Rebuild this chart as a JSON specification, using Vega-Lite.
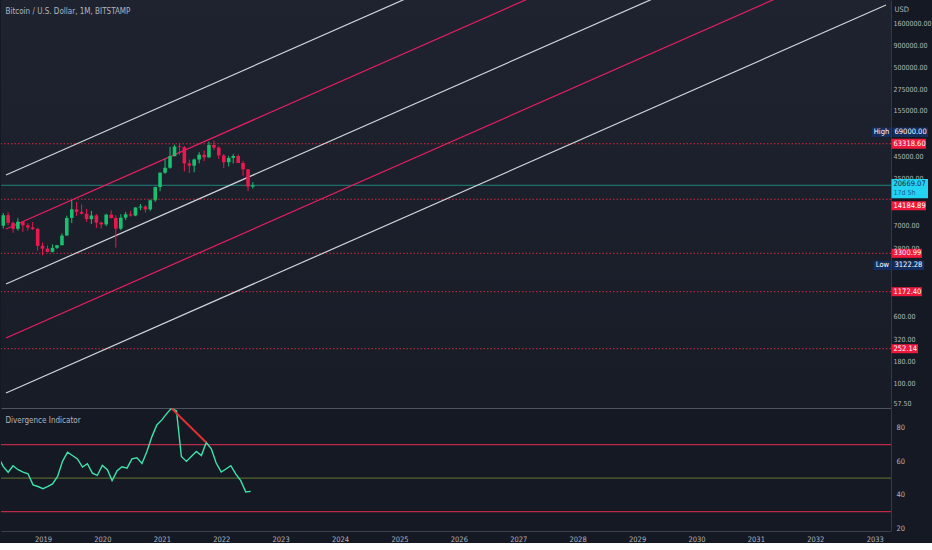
{
"$schema": "https://vega.github.io/schema/vega-lite/v6.json",
"background": "#151924",
"padding": 0,
"spacing": 0,
"config": {
  "font": "DejaVu Sans Condensed, Liberation Sans, sans-serif",
  "view": {"stroke": null},
  "axis": {"grid": false, "ticks": false, "labelFont": "DejaVu Sans Condensed, Liberation Sans, sans-serif", "labelFontSize": 7.5, "labelColor": "#b2b5be", "domainColor": "#343844", "titleFont": "DejaVu Sans Condensed, Liberation Sans, sans-serif", "titleFontWeight": "normal", "titleFontSize": 8, "titleColor": "#b2b5be"}
},
"datasets": {
  "candles": [
    {"date":"2018-04-01","open":6926,"high":9759,"low":6430,"close":9240},
    {"date":"2018-05-01","open":9240,"high":9990,"low":7030,"close":7495},
    {"date":"2018-06-01","open":7495,"high":7760,"low":5750,"close":6390},
    {"date":"2018-07-01","open":6390,"high":8500,"low":6070,"close":7730},
    {"date":"2018-08-01","open":7730,"high":7760,"low":5880,"close":7015},
    {"date":"2018-09-01","open":7015,"high":7410,"low":6110,"close":6625},
    {"date":"2018-10-01","open":6625,"high":7680,"low":6190,"close":6370},
    {"date":"2018-11-01","open":6370,"high":6580,"low":3560,"close":4040},
    {"date":"2018-12-01","open":4040,"high":4410,"low":3122.28,"close":3742},
    {"date":"2019-01-01","open":3742,"high":4080,"low":3400,"close":3437},
    {"date":"2019-02-01","open":3437,"high":4200,"low":3380,"close":3820},
    {"date":"2019-03-01","open":3820,"high":4140,"low":3700,"close":4102},
    {"date":"2019-04-01","open":4102,"high":5640,"low":4080,"close":5320},
    {"date":"2019-05-01","open":5320,"high":9090,"low":5320,"close":8570},
    {"date":"2019-06-01","open":8570,"high":13880,"low":7450,"close":10820},
    {"date":"2019-07-01","open":10820,"high":13200,"low":9070,"close":10085},
    {"date":"2019-08-01","open":10085,"high":12330,"low":9360,"close":9600},
    {"date":"2019-09-01","open":9600,"high":10920,"low":7710,"close":8290},
    {"date":"2019-10-01","open":8290,"high":10370,"low":7300,"close":9150},
    {"date":"2019-11-01","open":9150,"high":9510,"low":6530,"close":7550},
    {"date":"2019-12-01","open":7550,"high":7760,"low":6430,"close":7195},
    {"date":"2020-01-01","open":7195,"high":9580,"low":6860,"close":9350},
    {"date":"2020-02-01","open":9350,"high":10500,"low":8440,"close":8545},
    {"date":"2020-03-01","open":8545,"high":9190,"low":3850,"close":6420},
    {"date":"2020-04-01","open":6420,"high":9460,"low":6150,"close":8630},
    {"date":"2020-05-01","open":8630,"high":10080,"low":8120,"close":9450},
    {"date":"2020-06-01","open":9450,"high":10390,"low":8890,"close":9140},
    {"date":"2020-07-01","open":9140,"high":11450,"low":8970,"close":11350},
    {"date":"2020-08-01","open":11350,"high":12480,"low":10540,"close":11660},
    {"date":"2020-09-01","open":11660,"high":12080,"low":9880,"close":10780},
    {"date":"2020-10-01","open":10780,"high":14100,"low":10380,"close":13800},
    {"date":"2020-11-01","open":13800,"high":19900,"low":13220,"close":19700},
    {"date":"2020-12-01","open":19700,"high":29300,"low":17580,"close":28990},
    {"date":"2021-01-01","open":28990,"high":41950,"low":28130,"close":33120},
    {"date":"2021-02-01","open":33120,"high":58350,"low":32300,"close":45240},
    {"date":"2021-03-01","open":45240,"high":61780,"low":45000,"close":58800},
    {"date":"2021-04-01","open":58800,"high":64900,"low":47050,"close":57750},
    {"date":"2021-05-01","open":57750,"high":59500,"low":30000,"close":37300},
    {"date":"2021-06-01","open":37300,"high":41320,"low":28800,"close":35040},
    {"date":"2021-07-01","open":35040,"high":42400,"low":29300,"close":41460},
    {"date":"2021-08-01","open":41460,"high":50500,"low":37330,"close":47100},
    {"date":"2021-09-01","open":47100,"high":52920,"low":39600,"close":43820},
    {"date":"2021-10-01","open":43820,"high":66990,"low":43300,"close":61300},
    {"date":"2021-11-01","open":61300,"high":69000,"low":53260,"close":57000},
    {"date":"2021-12-01","open":57000,"high":59100,"low":42000,"close":46220},
    {"date":"2022-01-01","open":46220,"high":47990,"low":32950,"close":38480},
    {"date":"2022-02-01","open":38480,"high":45800,"low":34320,"close":43190},
    {"date":"2022-03-01","open":43190,"high":48200,"low":37200,"close":45530},
    {"date":"2022-04-01","open":45530,"high":47450,"low":37700,"close":37640},
    {"date":"2022-05-01","open":37640,"high":40000,"low":26700,"close":31790},
    {"date":"2022-06-01","open":31790,"high":31990,"low":17600,"close":19940},
    {"date":"2022-07-01","open":19940,"high":22500,"low":18900,"close":20669.07}
  ],
  "channels": [
    {"line":"w1","kind":"white","date":"2018-04-18","price":27260},
    {"line":"w1","kind":"white","date":"2033-04-11","price":952000000},
    {"line":"c1","kind":"crimson","date":"2018-04-18","price":6359},
    {"line":"c1","kind":"crimson","date":"2033-04-11","price":222000000},
    {"line":"w2","kind":"white","date":"2018-04-18","price":1443},
    {"line":"w2","kind":"white","date":"2033-04-11","price":50400000},
    {"line":"c2","kind":"crimson","date":"2018-04-18","price":336.4},
    {"line":"c2","kind":"crimson","date":"2033-04-11","price":11750000},
    {"line":"w3","kind":"white","date":"2018-04-18","price":76.4},
    {"line":"w3","kind":"white","date":"2033-04-11","price":2667000}
  ],
  "levels": [
    {"price":63318.6,"label":"63318.60"},
    {"price":14184.89,"label":"14184.89"},
    {"price":3300.99,"label":"3300.99"},
    {"price":1172.4,"label":"1172.40"},
    {"price":252.14,"label":"252.14"}
  ],
  "current": [{"price":20669.07,"label":"20669.07","countdown":"17d 5h"}],
  "high": [{"price":69000,"label":"69000.00","tag":"High"}],
  "low": [{"price":3122.28,"label":"3122.28","tag":"Low"}],
  "bands": [{"level":70,"band":"upper"},{"level":50,"band":"middle"},{"level":30,"band":"lower"}],
  "rsi": [
    {"date":"2018-04-01","value":63},{"date":"2018-05-01","value":57},{"date":"2018-06-01","value":53.5},
    {"date":"2018-07-01","value":57.4},{"date":"2018-08-01","value":55},{"date":"2018-09-01","value":53.6},
    {"date":"2018-10-01","value":52.6},{"date":"2018-11-01","value":46},{"date":"2018-12-01","value":45},
    {"date":"2019-01-01","value":43.7},{"date":"2019-02-01","value":45},{"date":"2019-03-01","value":46.5},
    {"date":"2019-04-01","value":51},{"date":"2019-05-01","value":60},{"date":"2019-06-01","value":65.5},
    {"date":"2019-07-01","value":63.5},{"date":"2019-08-01","value":61.5},{"date":"2019-09-01","value":56.6},
    {"date":"2019-10-01","value":58.6},{"date":"2019-11-01","value":53},{"date":"2019-12-01","value":51.6},
    {"date":"2020-01-01","value":57.6},{"date":"2020-02-01","value":55},{"date":"2020-03-01","value":48.5},
    {"date":"2020-04-01","value":54.4},{"date":"2020-05-01","value":56.8},{"date":"2020-06-01","value":56},
    {"date":"2020-07-01","value":61.5},{"date":"2020-08-01","value":62.1},{"date":"2020-09-01","value":58.8},
    {"date":"2020-10-01","value":65.9},{"date":"2020-11-01","value":74.8},{"date":"2020-12-01","value":81.8},
    {"date":"2021-01-01","value":84.8},{"date":"2021-02-01","value":88.7},{"date":"2021-03-01","value":91.7},
    {"date":"2021-04-01","value":90.1},{"date":"2021-05-01","value":62.9},{"date":"2021-06-01","value":60},
    {"date":"2021-07-01","value":62.9},{"date":"2021-08-01","value":65.9},{"date":"2021-09-01","value":63.5},
    {"date":"2021-10-01","value":71.3},{"date":"2021-11-01","value":67.5},{"date":"2021-12-01","value":59},
    {"date":"2022-01-01","value":53.6},{"date":"2022-02-01","value":55.6},{"date":"2022-03-01","value":57.4},
    {"date":"2022-04-01","value":52.4},{"date":"2022-05-01","value":48.5},{"date":"2022-06-01","value":41.7},
    {"date":"2022-07-01","value":42.1}
  ],
  "divergence": [{"date":"2021-03-01","value":91.7},{"date":"2021-10-01","value":71.3}]
},
"vconcat": [
  {
    "width": 890, "height": 408,
    "view": {"fill": {"gradient": "linear", "x1": 0, "y1": 0, "x2": 0, "y2": 1, "stops": [{"offset": 0, "color": "#1f232f"}, {"offset": 1, "color": "#181c27"}]}},
    "layer": [
      {"data": {"name": "levels"}, "mark": {"type": "rule", "strokeDash": [1.5, 2], "color": "#d42a40", "strokeWidth": 1},
       "encoding": {"y": {"field": "price", "type": "quantitative", "scale": {"type": "log", "domain": [50.97, 3053000], "nice": false, "zero": false},
         "axis": {"orient": "right", "values": [57.5, 100, 180, 320, 600, 3800, 7000, 25000, 45000, 155000, 275000, 500000, 900000, 1600000], "format": ".2f", "labelPadding": 2, "labelFontSize": 7, "labelBaseline": "middle", "labelOverlap": false, "labelFlush": false, "title": "USD", "titleAngle": 0, "titleX": 3, "titleY": 9, "titleAlign": "left", "titleBaseline": "middle", "titleFontSize": 7.5}}}},
      {"data": {"name": "current"}, "mark": {"type": "rule", "color": "#1f9e8c", "strokeWidth": 1, "opacity": 0.8},
       "encoding": {"y": {"field": "price", "type": "quantitative", "scale": {"type": "log", "domain": [50.97, 3053000], "nice": false, "zero": false}}}},
      {"data": {"name": "channels"}, "mark": {"type": "line", "strokeWidth": 1.2, "clip": true},
       "encoding": {
         "x": {"field": "date", "type": "temporal", "scale": {"type": "utc", "domain": [{"year": 2018, "month": 4, "date": 18, "utc": true}, {"year": 2033, "month": 4, "date": 11, "utc": true}]},
           "axis": {"labels": false, "ticks": false, "domain": true, "domainColor": "#50545f", "minExtent": 0, "maxExtent": 0, "title": "Bitcoin / U.S. Dollar, 1M, BITSTAMP", "titleX": 4, "titleY": -397, "titleAlign": "left", "titleBaseline": "middle", "titleAnchor": null}},
         "y": {"field": "price", "type": "quantitative", "scale": {"type": "log", "domain": [50.97, 3053000], "nice": false, "zero": false}},
         "detail": {"field": "line"},
         "color": {"condition": {"test": "datum.kind == 'crimson'", "value": "#e91e63"}, "value": "#d1d4dc"}}},
      {"data": {"name": "candles"}, "mark": {"type": "rule", "strokeWidth": 1, "clip": true},
       "encoding": {
         "x": {"field": "date", "type": "temporal", "scale": {"type": "utc", "domain": [{"year": 2018, "month": 4, "date": 18, "utc": true}, {"year": 2033, "month": 4, "date": 11, "utc": true}]}},
         "y": {"field": "low", "type": "quantitative", "scale": {"type": "log", "domain": [50.97, 3053000], "nice": false, "zero": false}},
         "y2": {"field": "high"},
         "color": {"condition": {"test": "datum.close >= datum.open", "value": "#17c16f"}, "value": "#e9194f"}}},
      {"data": {"name": "candles"}, "mark": {"type": "bar", "width": 3.6, "clip": true},
       "encoding": {
         "x": {"field": "date", "type": "temporal", "scale": {"type": "utc", "domain": [{"year": 2018, "month": 4, "date": 18, "utc": true}, {"year": 2033, "month": 4, "date": 11, "utc": true}]}},
         "y": {"field": "open", "type": "quantitative", "scale": {"type": "log", "domain": [50.97, 3053000], "nice": false, "zero": false}},
         "y2": {"field": "close"},
         "color": {"condition": {"test": "datum.close >= datum.open", "value": "#17c16f"}, "value": "#e9194f"}}},
      {"data": {"name": "levels"}, "transform": [{"filter": "datum.price != 14184.89 && length(datum.label) == 8"}],
       "mark": {"type": "rect", "color": "#f0183a", "xOffset": 0.5, "x2Offset": 35, "yOffset": -5, "y2Offset": 5},
       "encoding": {"x": {"value": "width"}, "x2": {"value": "width"},
         "y": {"field": "price", "type": "quantitative", "scale": {"type": "log", "domain": [50.97, 3053000], "nice": false, "zero": false}}, "y2": {"field": "price"}}},
      {"data": {"name": "levels"}, "transform": [{"filter": "length(datum.label) == 7"}],
       "mark": {"type": "rect", "color": "#f0183a", "xOffset": 0.5, "x2Offset": 31, "yOffset": -4.5, "y2Offset": 4.5},
       "encoding": {"x": {"value": "width"}, "x2": {"value": "width"},
         "y": {"field": "price", "type": "quantitative", "scale": {"type": "log", "domain": [50.97, 3053000], "nice": false, "zero": false}}, "y2": {"field": "price"}}},
      {"data": {"name": "levels"}, "transform": [{"filter": "length(datum.label) == 6"}],
       "mark": {"type": "rect", "color": "#f0183a", "xOffset": 0.5, "x2Offset": 27, "yOffset": -4.5, "y2Offset": 4.5},
       "encoding": {"x": {"value": "width"}, "x2": {"value": "width"},
         "y": {"field": "price", "type": "quantitative", "scale": {"type": "log", "domain": [50.97, 3053000], "nice": false, "zero": false}}, "y2": {"field": "price"}}},
      {"data": {"name": "levels"}, "transform": [{"filter": "datum.price != 14184.89"}],
       "mark": {"type": "text", "color": "#ffffff", "align": "left", "baseline": "middle", "dx": 2.5, "fontSize": 7.5},
       "encoding": {"x": {"value": "width"}, "text": {"field": "label"},
         "y": {"field": "price", "type": "quantitative", "scale": {"type": "log", "domain": [50.97, 3053000], "nice": false, "zero": false}}}},
      {"data": {"name": "current"},
       "mark": {"type": "rect", "color": "#22d3f2", "xOffset": 0.5, "x2Offset": 37, "yOffset": -6.3, "y2Offset": 13},
       "encoding": {"x": {"value": "width"}, "x2": {"value": "width"},
         "y": {"field": "price", "type": "quantitative", "scale": {"type": "log", "domain": [50.97, 3053000], "nice": false, "zero": false}}, "y2": {"field": "price"}}},
      {"data": {"name": "current"},
       "mark": {"type": "text", "color": "#1a2540", "align": "left", "baseline": "middle", "dx": 2.5, "dy": -1.3, "fontSize": 7.5},
       "encoding": {"x": {"value": "width"}, "text": {"field": "label"},
         "y": {"field": "price", "type": "quantitative", "scale": {"type": "log", "domain": [50.97, 3053000], "nice": false, "zero": false}}}},
      {"data": {"name": "current"},
       "mark": {"type": "text", "color": "#1d5a8e", "align": "left", "baseline": "middle", "dx": 2.5, "dy": 7.3, "fontSize": 7},
       "encoding": {"x": {"value": "width"}, "text": {"field": "countdown"},
         "y": {"field": "price", "type": "quantitative", "scale": {"type": "log", "domain": [50.97, 3053000], "nice": false, "zero": false}}}},
      {"data": {"name": "levels"}, "transform": [{"filter": "datum.price == 14184.89"}],
       "mark": {"type": "rect", "color": "#f0183a", "xOffset": 0.5, "x2Offset": 35, "yOffset": 2, "y2Offset": 11},
       "encoding": {"x": {"value": "width"}, "x2": {"value": "width"},
         "y": {"field": "price", "type": "quantitative", "scale": {"type": "log", "domain": [50.97, 3053000], "nice": false, "zero": false}}, "y2": {"field": "price"}}},
      {"data": {"name": "levels"}, "transform": [{"filter": "datum.price == 14184.89"}],
       "mark": {"type": "text", "color": "#ffffff", "align": "left", "baseline": "middle", "dx": 2.5, "dy": 6.5, "fontSize": 7.5},
       "encoding": {"x": {"value": "width"}, "text": {"field": "label"},
         "y": {"field": "price", "type": "quantitative", "scale": {"type": "log", "domain": [50.97, 3053000], "nice": false, "zero": false}}}},
      {"data": {"name": "high"},
       "mark": {"type": "rect", "color": "#132d5e", "xOffset": -19, "x2Offset": 0, "yOffset": -13, "y2Offset": -3.5},
       "encoding": {"x": {"value": "width"}, "x2": {"value": "width"},
         "y": {"field": "price", "type": "quantitative", "scale": {"type": "log", "domain": [50.97, 3053000], "nice": false, "zero": false}}, "y2": {"field": "price"}}},
      {"data": {"name": "high"},
       "mark": {"type": "rect", "color": "#132d5e", "xOffset": 1.5, "x2Offset": 37, "yOffset": -13, "y2Offset": -3.5},
       "encoding": {"x": {"value": "width"}, "x2": {"value": "width"},
         "y": {"field": "price", "type": "quantitative", "scale": {"type": "log", "domain": [50.97, 3053000], "nice": false, "zero": false}}, "y2": {"field": "price"}}},
      {"data": {"name": "high"},
       "mark": {"type": "text", "color": "#ffffff", "align": "center", "baseline": "middle", "dx": -9.5, "dy": -8.3, "fontSize": 7.5},
       "encoding": {"x": {"value": "width"}, "text": {"field": "tag"},
         "y": {"field": "price", "type": "quantitative", "scale": {"type": "log", "domain": [50.97, 3053000], "nice": false, "zero": false}}}},
      {"data": {"name": "high"},
       "mark": {"type": "text", "color": "#ffffff", "align": "left", "baseline": "middle", "dx": 3.5, "dy": -8.3, "fontSize": 7.5},
       "encoding": {"x": {"value": "width"}, "text": {"field": "label"},
         "y": {"field": "price", "type": "quantitative", "scale": {"type": "log", "domain": [50.97, 3053000], "nice": false, "zero": false}}}},
      {"data": {"name": "low"},
       "mark": {"type": "rect", "color": "#132d5e", "xOffset": -17.5, "x2Offset": 0, "yOffset": 5.3, "y2Offset": 14.6},
       "encoding": {"x": {"value": "width"}, "x2": {"value": "width"},
         "y": {"field": "price", "type": "quantitative", "scale": {"type": "log", "domain": [50.97, 3053000], "nice": false, "zero": false}}, "y2": {"field": "price"}}},
      {"data": {"name": "low"},
       "mark": {"type": "rect", "color": "#132d5e", "xOffset": 1.5, "x2Offset": 33, "yOffset": 5.3, "y2Offset": 14.6},
       "encoding": {"x": {"value": "width"}, "x2": {"value": "width"},
         "y": {"field": "price", "type": "quantitative", "scale": {"type": "log", "domain": [50.97, 3053000], "nice": false, "zero": false}}, "y2": {"field": "price"}}},
      {"data": {"name": "low"},
       "mark": {"type": "text", "color": "#ffffff", "align": "center", "baseline": "middle", "dx": -8.5, "dy": 10, "fontSize": 7.5},
       "encoding": {"x": {"value": "width"}, "text": {"field": "tag"},
         "y": {"field": "price", "type": "quantitative", "scale": {"type": "log", "domain": [50.97, 3053000], "nice": false, "zero": false}}}},
      {"data": {"name": "low"},
       "mark": {"type": "text", "color": "#ffffff", "align": "left", "baseline": "middle", "dx": 3.5, "dy": 10, "fontSize": 7.5},
       "encoding": {"x": {"value": "width"}, "text": {"field": "label"},
         "y": {"field": "price", "type": "quantitative", "scale": {"type": "log", "domain": [50.97, 3053000], "nice": false, "zero": false}}}}
    ]
  },
  {
    "width": 890, "height": 123,
    "layer": [
      {"data": {"name": "bands"}, "mark": {"type": "rule", "strokeWidth": 1.3},
       "encoding": {
         "y": {"field": "level", "type": "quantitative", "scale": {"domain": [18.4, 91.9], "nice": false, "zero": false},
           "axis": {"orient": "right", "values": [20, 40, 60, 80], "format": "d", "labelPadding": 5, "labelBaseline": "middle", "labelFlush": false, "labelOverlap": false, "title": null}},
         "color": {"condition": {"test": "datum.band == 'middle'", "value": "#55642e"}, "value": "#b82a45"}}},
      {"data": {"name": "rsi"}, "mark": {"type": "line", "color": "#3ee3aa", "strokeWidth": 1.4, "clip": true},
       "encoding": {
         "x": {"field": "date", "type": "temporal", "scale": {"type": "utc", "domain": [{"year": 2018, "month": 4, "date": 18, "utc": true}, {"year": 2033, "month": 4, "date": 11, "utc": true}]},
           "axis": {"format": "%Y", "formatType": "utc", "tickCount": {"interval": "year", "step": 1}, "labelPadding": 4, "labelFlush": false, "labelOverlap": false, "labelBaseline": "top", "domainColor": "#3a3e4a", "title": "Divergence Indicator", "titleX": 4, "titleY": -111, "titleAlign": "left", "titleBaseline": "middle", "titleAnchor": null}},
         "y": {"field": "value", "type": "quantitative", "scale": {"domain": [18.4, 91.9], "nice": false, "zero": false}}}},
      {"data": {"name": "divergence"}, "mark": {"type": "line", "color": "#e0312f", "strokeWidth": 2, "clip": true},
       "encoding": {
         "x": {"field": "date", "type": "temporal", "scale": {"type": "utc", "domain": [{"year": 2018, "month": 4, "date": 18, "utc": true}, {"year": 2033, "month": 4, "date": 11, "utc": true}]}},
         "y": {"field": "value", "type": "quantitative", "scale": {"domain": [18.4, 91.9], "nice": false, "zero": false}}}}
    ]
  }
]
}
